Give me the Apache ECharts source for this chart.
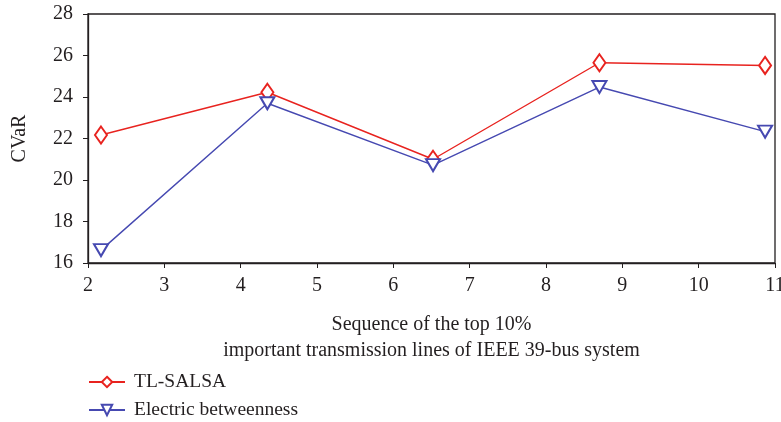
<!DOCTYPE html>
<html>
<head lang="en">
    <meta charset="UTF-8">
    <title>CVaR</title>
    <style type="text/css">
        body{ margin: 0; background: #fff; }
    </style>
</head>
<body>
<div id='mychart' style="width: 781px;height:422px;"></div>
<script src='https://cdn.jsdelivr.net/npm/echarts@6/dist/echarts.min.js'></script>
<script>
    // x position of each line (sequence) and CVaR values
    var seq = [2.17, 4.35, 6.52, 8.7, 10.87];
    var tlSalsa = [22.17, 24.23, 21.0, 25.65, 25.52];
    var electric = [16.62, 23.7, 20.72, 24.48, 22.33];
    var seriesNames = ['TL-SALSA', 'Electric betweenness'];

    function pairs(xs, ys) {
        return xs.map(function (x, i) { return [x, ys[i]]; });
    }

    var font = 'Liberation Serif';
    var axisColor = '#231f20';
    var txt = '#231f20';

    // one legend per row, stacked under the axis title
    function legendRow(name, top) {
        return {
            orient: 'vertical',
            left: 83, top: top,
            itemWidth: 36, itemHeight: 13,
            data: [name],
            textStyle: { fontFamily: font, fontSize: 19.5, color: txt, padding: [0, 0, 0, 4] }
        };
    }

    var option = {
        backgroundColor: '#fff',
        animation: false,
        textStyle: { fontFamily: font },
        grid: {
            left: 88, right: 6, top: 14, bottom: 159,
            outerBoundsMode: 'none',
            containLabel: false,
            show: true, borderColor: axisColor, borderWidth: 1.3
        },
        legend: [legendRow(seriesNames[0], 367), legendRow(seriesNames[1], 395)],
        xAxis: {
            type: 'value',
            min: 2, max: 11, interval: 1,
            name: 'Sequence of the top 10%\nimportant transmission lines of IEEE 39-bus system',
            nameLocation: 'middle',
            nameGap: 49,
            nameTextStyle: { fontFamily: font, fontSize: 20, color: txt, lineHeight: 26 },
            axisLine: { lineStyle: { color: axisColor, width: 1.3 } },
            axisTick: { length: 5, lineStyle: { color: axisColor } },
            axisLabel: { fontFamily: font, fontSize: 20, color: txt, margin: 13 },
            splitLine: { show: false }
        },
        yAxis: {
            type: 'value',
            min: 16, max: 28, interval: 2,
            name: 'CVaR',
            nameLocation: 'middle',
            nameGap: 58,
            nameTextStyle: { fontFamily: font, fontSize: 20, color: txt },
            axisLine: { show: true, lineStyle: { color: axisColor, width: 1.3 } },
            axisTick: { show: true, length: 5, lineStyle: { color: axisColor } },
            axisLabel: { fontFamily: font, fontSize: 20, color: txt, margin: 15 },
            splitLine: { show: false }
        },
        series: [
            {
                name: seriesNames[0],
                type: 'line',
                data: pairs(seq, tlSalsa),
                symbol: 'emptyDiamond',
                symbolSize: [12, 17],
                color: '#e8231f',
                lineStyle: { width: 1.4 },
                itemStyle: { borderWidth: 1.3 }
            },
            {
                name: seriesNames[1],
                type: 'line',
                data: pairs(seq, electric),
                symbol: 'emptyTriangle',
                symbolRotate: 180,
                symbolSize: [14, 12],
                color: '#4649b1',
                lineStyle: { width: 1.4 },
                itemStyle: { borderWidth: 1.3 }
            }
        ]
    };

    var mychart = echarts.init(document.getElementById('mychart'));
    mychart.setOption(option);
</script>
</body>
</html>
